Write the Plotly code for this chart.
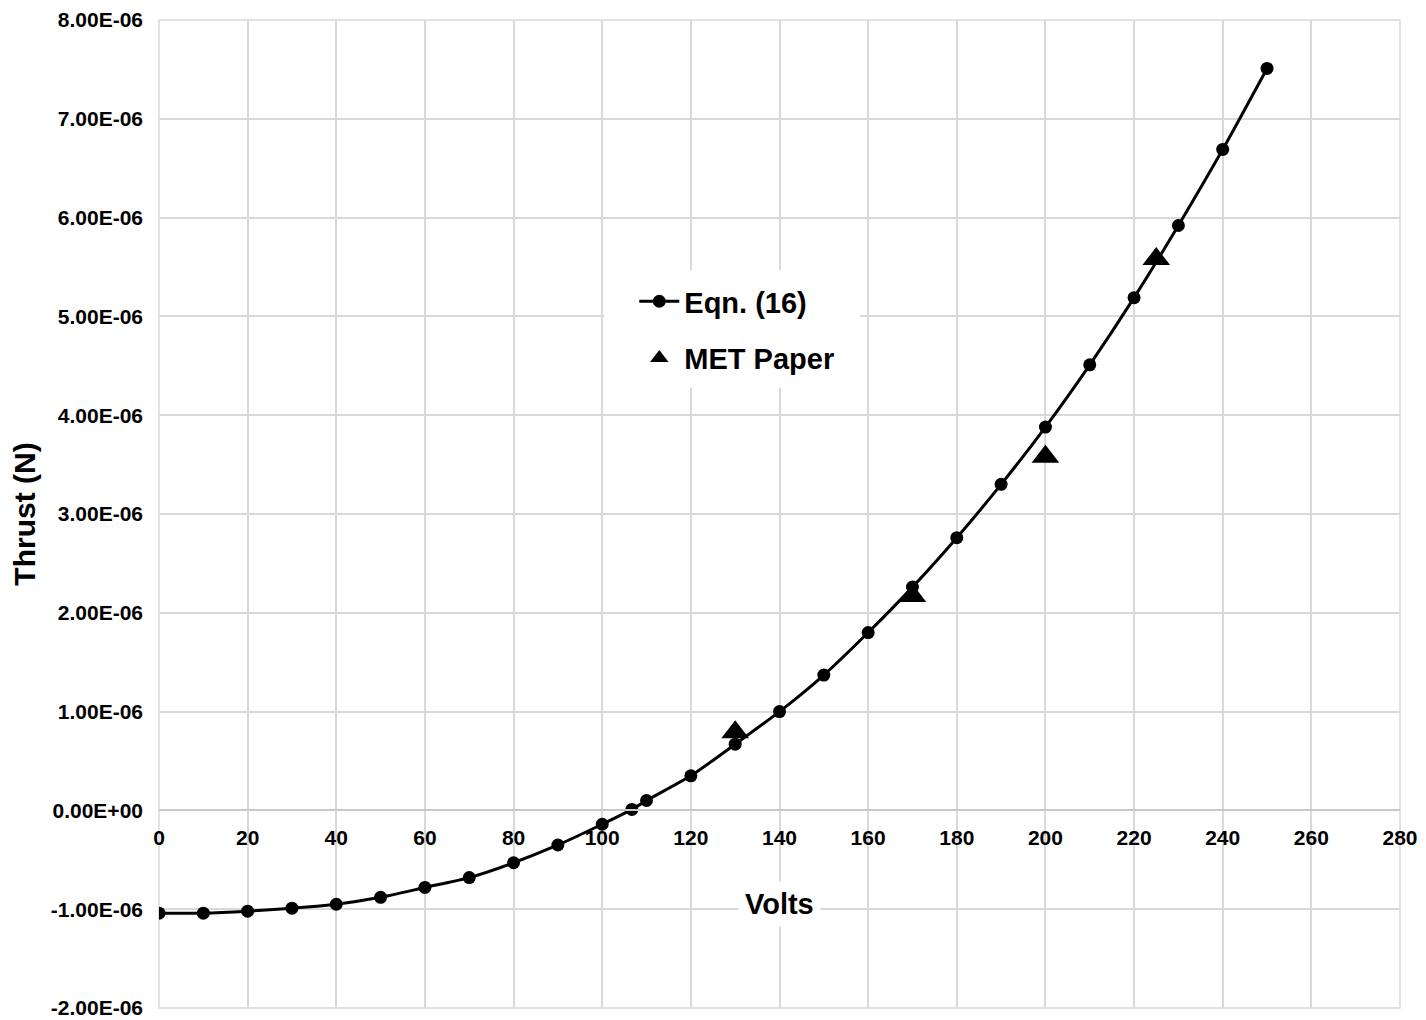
import plotly.graph_objects as go

# Eqn. (16) series
eqn_volts = [0, 10, 20, 30, 40, 50, 60, 70, 80, 90, 100, 106.7, 110, 120, 130, 140,
             150, 160, 170, 180, 190, 200, 210, 220, 230, 240, 250]
eqn_thrust = [-1.04e-6, -1.04e-6, -1.02e-6, -0.99e-6, -0.95e-6, -0.88e-6, -0.78e-6,
              -0.68e-6, -0.53e-6, -0.35e-6, -0.14e-6, 0.01e-6, 0.10e-6, 0.35e-6,
              0.67e-6, 1.00e-6, 1.37e-6, 1.80e-6, 2.26e-6, 2.76e-6, 3.30e-6, 3.88e-6,
              4.51e-6, 5.19e-6, 5.92e-6, 6.69e-6, 7.51e-6]

# MET Paper series
met_volts = [130, 170, 200, 225]
met_thrust = [0.79e-6, 2.17e-6, 3.58e-6, 5.58e-6]

x_tick_vals = list(range(0, 281, 20))
y_tick_vals = [-2e-6, -1e-6, 0, 1e-6, 2e-6, 3e-6, 4e-6, 5e-6, 6e-6, 7e-6, 8e-6]
y_tick_text = ["-2.00E-06", "-1.00E-06", "0.00E+00", "1.00E-06", "2.00E-06", "3.00E-06",
               "4.00E-06", "5.00E-06", "6.00E-06", "7.00E-06", "8.00E-06"]

NARROW = "Liberation Sans Narrow, Arial Narrow, Liberation Sans, Arial, sans-serif"
WIDE = "Liberation Sans, Arial, sans-serif"
GRID = "#d9d9d9"

fig = go.Figure()
fig.add_trace(go.Scatter(
    x=eqn_volts, y=eqn_thrust, name="<b>Eqn. (16)</b>", mode="lines+markers",
    line=dict(color="black", width=3, shape="spline", smoothing=0.6),
    marker=dict(symbol="circle", size=13, color="black"),
    legendgroup="a",
))
fig.add_trace(go.Scatter(
    x=met_volts, y=met_thrust, name="<b>MET Paper</b>", mode="markers",
    marker=dict(symbol="triangle-up", size=24, color="black"),
    legendgroup="b",
))

fig.add_annotation(
    x=140, y=-0.95e-6, xref="x", yref="y", text="<b>Volts</b>", showarrow=False,
    font=dict(family=WIDE, size=29, color="black"), bgcolor="white", borderpad=6,
)

# plot-area border (grid lines at the range ends)
fig.add_shape(type="rect", xref="paper", yref="paper", layer="below",
              x0=0, x1=1, y0=0, y1=1,
              fillcolor="rgba(0,0,0,0)", line=dict(color=GRID, width=1.5))

# white backing for the legend area (no data lies here; legend draws on top)
fig.add_shape(type="rect", xref="paper", yref="paper", layer="above",
              x0=0.359, x1=0.565, y0=0.628, y1=0.747,
              fillcolor="white", line=dict(width=0))

fig.update_layout(
    width=1418, height=1012,
    margin=dict(l=151, r=26, t=12, b=12, autoexpand=False),
    paper_bgcolor="white", plot_bgcolor="rgba(0,0,0,0)",
    showlegend=True,
    legend=dict(x=0.383, y=0.741, xanchor="left", yanchor="top",
                bgcolor="rgba(255,255,255,0)", borderwidth=0,
                font=dict(family=WIDE, size=29, color="black"),
                tracegroupgap=16, itemwidth=40),
    xaxis=dict(
        range=[0, 280.0001], tickvals=x_tick_vals, showgrid=True,
        gridcolor=GRID, gridwidth=1.5, zeroline=False,
        anchor="free", position=0.2, showline=True, linecolor="#c8c8c8", linewidth=2,
        ticks="", ticklabelstandoff=8, automargin=False, ticklabeloverflow="allow",
        tickfont=dict(family=NARROW, size=21, color="black", weight="bold"),
    ),
    yaxis=dict(
        range=[-2.00001e-6, 8.00001e-6], tickvals=y_tick_vals, ticktext=y_tick_text,
        showgrid=True, gridcolor=GRID, gridwidth=1.5, zeroline=False,
        showline=False, ticks="", ticklabelstandoff=15, automargin=False,
        ticklabeloverflow="allow",
        tickfont=dict(family=NARROW, size=21, color="black", weight="bold"),
        title=dict(text="<b>Thrust (N)</b>", standoff=14,
                   font=dict(family=WIDE, size=30, color="black")),
    ),
)

fig.write_html("out.html")
